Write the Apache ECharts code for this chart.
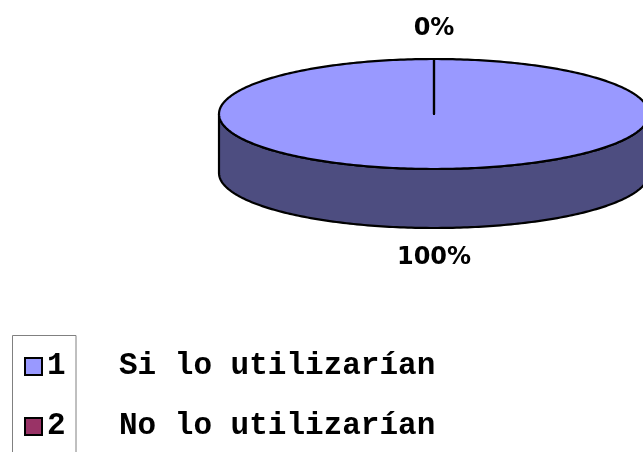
<!DOCTYPE html>
<html>
<head>
<meta charset="utf-8">
<script src="https://cdn.jsdelivr.net/npm/echarts@6/dist/echarts.min.js"></script>
<style>
  html, body { margin: 0; padding: 0; background: #ffffff; }
  #chart { width: 643px; height: 452px; }
</style>
</head>
<body>
<div id="chart"></div>
<script>
// Survey answers
const categories = ['1', '2'];
const descriptions = ['Si lo utilizarían', 'No lo utilizarían'];
const values = [100, 0];
const colors = ['#9999FF', '#993366'];

// Tilted pie geometry (pixels)
const PIE = { cx: 434, cy: 114, rx: 215, ry: 55, depth: 59 };
const START = -Math.PI / 2; // slices begin at 12 o'clock, clockwise

const total = values.reduce((a, b) => a + b, 0);

function shade(hex, f) {
  const n = parseInt(hex.slice(1), 16);
  const r = Math.round(((n >> 16) & 255) * f);
  const g = Math.round(((n >> 8) & 255) * f);
  const b = Math.round((n & 255) * f);
  return 'rgb(' + r + ',' + g + ',' + b + ')';
}

function arcPoints(a, b, dy) {
  const pts = [];
  const steps = Math.max(2, Math.ceil(Math.abs(b - a) / (Math.PI / 180)));
  for (let i = 0; i <= steps; i++) {
    const t = a + (b - a) * i / steps;
    pts.push([PIE.cx + PIE.rx * Math.cos(t), PIE.cy + PIE.ry * Math.sin(t) + dy]);
  }
  return pts;
}

function sliceRenderer(idx) {
  return function (params, api) {
    const v = api.value(0);
    let cum = 0;
    for (let i = 0; i < idx; i++) cum += values[i];
    const t0 = START + 2 * Math.PI * cum / total;
    const t1 = START + 2 * Math.PI * (cum + v) / total;
    const color = colors[idx];
    const children = [];

    // outer wall, visible only on the front half of the ellipse
    const a = Math.max(t0, 0), b = Math.min(t1, Math.PI);
    if (b > a) {
      const pts = arcPoints(a, b, 0).concat(arcPoints(b, a, PIE.depth));
      children.push({
        type: 'polygon', z2: 1,
        shape: { points: pts },
        style: { fill: shade(color, 0.5), stroke: '#000', lineWidth: 2.2, lineJoin: 'round' }
      });
    }

    // top face
    const top = [[PIE.cx, PIE.cy]].concat(arcPoints(t0, t1, 0));
    children.push({
      type: 'polygon', z2: 2,
      shape: { points: top },
      style: { fill: color, stroke: '#000', lineWidth: 2.2, lineJoin: 'round' }
    });

    // percentage label outside the slice
    const tm = (t0 + t1) / 2;
    const off = 30;
    const s = Math.sin(tm);
    const lx = PIE.cx + (PIE.rx + off) * Math.cos(tm);
    const ly = PIE.cy + (PIE.ry + off) * s + (s > 0 ? PIE.depth : 0);
    children.push({
      type: 'text', z2: 3,
      x: lx, y: ly,
      style: {
        text: Math.round(v / total * 100) + '%',
        align: 'center', verticalAlign: 'middle',
        font: 'bold 24px "DejaVu Sans"', fill: '#000'
      }
    });

    return { type: 'group', children: children };
  };
}

const series = categories.map((name, i) => ({
  type: 'custom',
  name: name,
  coordinateSystem: 'none',
  z: 2,
  silent: true,
  itemStyle: { color: colors[i] },
  data: [[values[i]]],
  renderItem: sliceRenderer(i)
}));

const chart = echarts.init(document.getElementById('chart'), null, { renderer: 'canvas' });
chart.setOption({
  backgroundColor: '#ffffff',
  animation: false,
  legend: {
    orient: 'vertical',
    left: 24,
    top: 351,
    padding: 0,
    itemWidth: 17,
    itemHeight: 17,
    itemGap: 29,
    icon: 'rect',
    selectedMode: false,
    itemStyle: { borderColor: '#000', borderWidth: 2 },
    data: categories,
    formatter: function (name) {
      return '{n|' + name + '}{d|' + descriptions[categories.indexOf(name)] + '}';
    },
    textStyle: {
      color: '#000',
      fontFamily: 'Liberation Mono',
      fontWeight: 'bold',
      fontSize: 31,
      lineHeight: 30,
      rich: {
        n: { width: 72, fontFamily: 'Liberation Mono', fontWeight: 'bold', fontSize: 31, color: '#000' },
        d: { fontFamily: 'Liberation Mono', fontWeight: 'bold', fontSize: 31, color: '#000' }
      }
    }
  },
  graphic: [{
    type: 'rect',
    silent: true,
    shape: { x: 12.5, y: 335.5, width: 63.5, height: 140 },
    style: { fill: 'none', stroke: '#808080', lineWidth: 1 }
  }],
  series: series
});
</script>
</body>
</html>
